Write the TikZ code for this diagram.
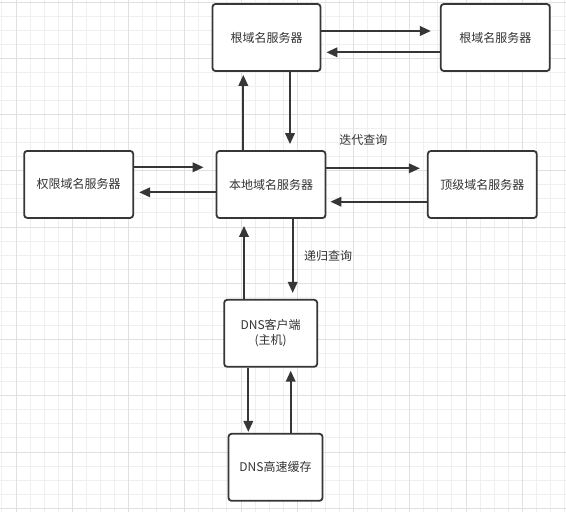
\documentclass[tikz,border=0pt]{standalone}
\usepackage{fontspec}
\setmainfont{Noto Sans CJK SC}
\usetikzlibrary{arrows.meta}
\definecolor{boxline}{HTML}{363636}
\definecolor{txt}{HTML}{333333}
\definecolor{minorgrid}{HTML}{EFEFEF}
\definecolor{majorgrid}{HTML}{E0E0E0}

\begin{document}
\begin{tikzpicture}[x=1pt,y=-1pt,
    box/.style={draw=boxline, line width=1.8pt, rounded corners=3pt, fill=white, text=txt, align=center, inner sep=0pt, font=\fontsize{12}{15.5}\selectfont},
    arr/.style={draw=boxline, line width=2pt, -{Triangle[length=11pt,width=9.5pt]}},
    lbl/.style={text=txt, inner sep=0pt, font=\fontsize{12}{15}\selectfont}]
    \useasboundingbox[fill=white] (0,0) rectangle (566,512);

    % background grid
    \foreach \i in {-1,...,39} \draw[minorgrid, line width=0.9pt] ({16+14.0625*\i},0) -- ({16+14.0625*\i},512);
    \foreach \i in {0,...,36} \draw[minorgrid, line width=0.9pt] (0,{2+14.0625*\i}) -- (566,{2+14.0625*\i});
    \foreach \i in {0,...,9} \draw[majorgrid, line width=1pt] ({16+56.25*\i},0) -- ({16+56.25*\i},512);
    \foreach \i in {0,...,9} \draw[majorgrid, line width=1pt] (0,{2+56.25*\i}) -- (566,{2+56.25*\i});

    \node[box, minimum width=108pt, minimum height=67pt] (root) at (266.5,37.5) {根域名服务器};
    \node[box, minimum width=109pt, minimum height=67pt] (rroot) at (495.3,37.5) {根域名服务器};
    \node[box, minimum width=109pt, minimum height=67pt] (local) at (271,184.5) {本地域名服务器};
    \node[box, minimum width=109pt, minimum height=67pt] (tld) at (482.3,184.5) {顶级域名服务器};
    \node[box, minimum width=109pt, minimum height=67pt] (auth) at (78.7,184.4) {权限域名服务器};
    \node[box, minimum width=93pt, minimum height=67pt] (client) at (270.7,333.3) {DNS客户端\\(主机)};
    \node[box, minimum width=94pt, minimum height=67pt] (cache) at (275.5,467.3) {DNS高速缓存};

    \node[lbl] (iter) at (363.3,140) {迭代查询};
    \node[lbl] (recur) at (328,256) {递归查询};

    % root <-> root
    \draw[arr, shorten >=9pt] ([yshift=6.5pt]root.east) -- ([yshift=6.5pt]rroot.west);
    \draw[arr, shorten >=5pt] ([yshift=-14.8pt]rroot.west) -- ([yshift=-14.8pt]root.east);
    % root <-> local
    \draw[arr, shorten >=6pt] ([xshift=23.5pt]root.south) -- ([xshift=23.5pt]root.south |- local.north);
    \draw[arr, shorten >=3pt] ([xshift=-27.7pt]local.north) -- ([xshift=-27.7pt]local.north |- root.south);
    % local <-> tld
    \draw[arr, shorten >=7pt] ([yshift=16.2pt]local.east) -- ([yshift=16.2pt]local.east -| tld.west);
    \draw[arr, shorten >=4pt] ([yshift=-17.2pt]tld.west) -- ([yshift=-17.2pt]tld.west -| local.east);
    % auth <-> local
    \draw[arr, shorten >=12pt] ([yshift=17.1pt]auth.east) -- ([yshift=17.1pt]auth.east -| local.west);
    \draw[arr, shorten >=5pt] ([yshift=-7.8pt]local.west) -- ([yshift=-7.8pt]local.west -| auth.east);
    % local <-> client
    \draw[arr, shorten >=6pt] ([xshift=21.7pt]local.south) -- ([xshift=21.7pt]local.south |- client.north);
    \draw[arr, shorten >=7pt] ([xshift=-26.7pt]client.north) -- ([xshift=-26.7pt]client.north |- local.south);
    % client <-> cache
    \draw[arr, shorten >=1pt] ([xshift=-22.4pt]client.south) -- ([xshift=-22.4pt]client.south |- cache.north);
    \draw[arr, shorten >=3pt] ([xshift=15.2pt]cache.north) -- ([xshift=15.2pt]cache.north |- client.south);
\end{tikzpicture}
\end{document}
